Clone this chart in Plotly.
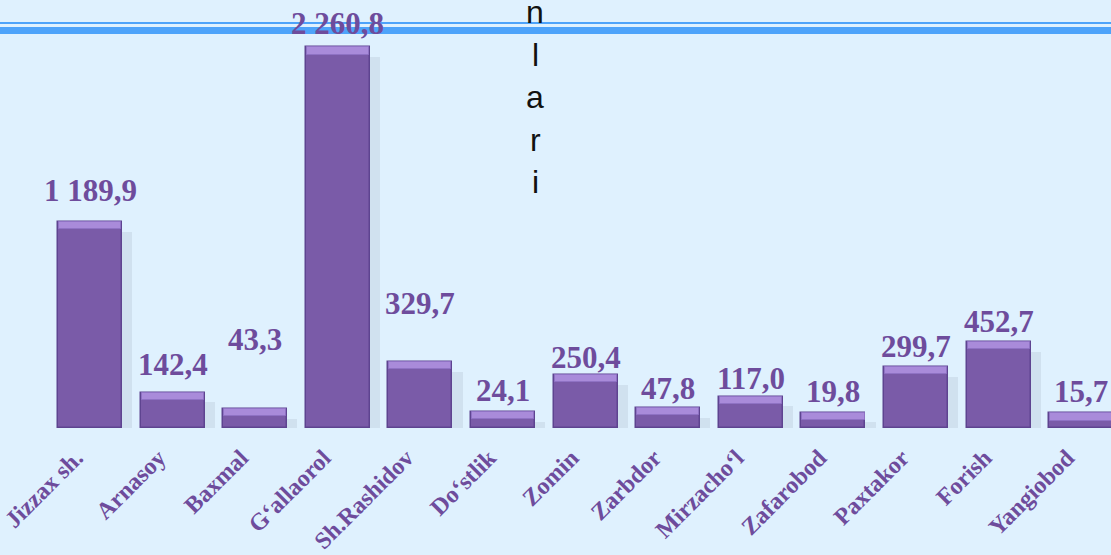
"""
Bar chart of district values (Jizzax region) recreated with Plotly.
"""
import plotly.graph_objects as go

districts = ["Jizzax sh.", "Arnasoy", "Baxmal", "G\u2018allaorol", "Sh.Rashidov",
             "Do\u2018stlik", "Zomin", "Zarbdor", "Mirzacho\u2018l", "Zafarobod",
             "Paxtakor", "Forish", "Yangiobod"]
values = [1189.9, 142.4, 43.3, 2260.8, 329.7, 24.1, 250.4, 47.8, 117.0, 19.8,
          299.7, 452.7, 15.7]
value_labels = ["1 189,9", "142,4", "43,3", "2 260,8", "329,7", "24,1", "250,4",
                "47,8", "117,0", "19,8", "299,7", "452,7", "15,7"]
stray_letters = ["n", "l", "a", "r", "i"]

# label lifts above bar tops (px), a couple were moved by hand in the original
label_lift = [12, 9, 50, 4, 39, 2, -2, 0, -1, 2, 1, 1, 2]

BG = "#DFF1FE"
FACE = "#7A5BA8"
CAP = "#A98BDA"
EDGE = "#5E4490"
TEXT = "#6E4C9C"
AXIS_MIN = -75
CAP_UNITS = 45
BAR_W = 0.775

x = list(range(len(districts)))

fig = go.Figure()

# soft shadow on the right side of every bar
fig.add_trace(go.Bar(
    x=x, y=[v - AXIS_MIN - 60 for v in values], base=AXIS_MIN,
    width=BAR_W * 0.9, offset=-BAR_W / 2 + 0.2,
    marker={"color": "rgba(90,100,120,0.11)", "line": {"width": 0}},
    hoverinfo="skip", showlegend=False,
))
# main bar face
fig.add_trace(go.Bar(
    x=x, y=[v - AXIS_MIN for v in values], base=AXIS_MIN,
    width=BAR_W, offset=-BAR_W / 2,
    marker={"color": FACE, "line": {"color": EDGE, "width": 1.5}},
    customdata=values,
    hovertemplate="%{customdata}<extra></extra>",
    showlegend=False,
))
# lighter bevelled top
fig.add_trace(go.Bar(
    x=x, y=[CAP_UNITS] * len(values), base=[v - CAP_UNITS for v in values],
    width=BAR_W * 0.97, offset=-BAR_W * 0.97 / 2,
    marker={"color": CAP, "line": {"color": "#8F72C4", "width": 1}},
    hoverinfo="skip", showlegend=False,
))

for i, (v, lab) in enumerate(zip(values, value_labels)):
    fig.add_annotation(
        x=i, y=v, text=f"<b>{lab}</b>", showarrow=False,
        yanchor="bottom", yshift=label_lift[i],
        font={"family": "Liberation Serif, Times New Roman, serif", "size": 31, "color": TEXT},
    )

# stray vertical text box from the source slide
for k, ch in enumerate(stray_letters):
    fig.add_annotation(
        xref="paper", yref="paper", x=535 / 1111, y=1 - (12 + 42.5 * k) / 428,
        text=ch, showarrow=False, xanchor="center", yanchor="middle",
        font={"family": "Liberation Sans, Arial, sans-serif", "size": 32, "color": "#111111"},
    )

# double blue rule at the top
fig.add_shape(type="line", xref="paper", yref="paper", x0=0, x1=1,
              y0=1 - 23 / 428, y1=1 - 23 / 428,
              line={"color": "#4DA3FA", "width": 2})
fig.add_shape(type="line", xref="paper", yref="paper", x0=0, x1=1,
              y0=1 - 30.5 / 428, y1=1 - 30.5 / 428,
              line={"color": "#4DA3FA", "width": 7})

fig.update_layout(
    width=1111, height=555,
    margin={"l": 0, "r": 0, "t": 0, "b": 127},
    paper_bgcolor=BG, plot_bgcolor=BG,
    barmode="overlay", bargap=0,
    xaxis={
        "range": [-1.09, 12.36], "automargin": False,
        "tickvals": x, "ticktext": [f"<b>{d}</b>" for d in districts],
        "tickangle": -45, "ticklabelstandoff": 10, "ticklabelshift": -14,
        "ticklabeloverflow": "allow",
        "tickfont": {"family": "Liberation Serif, Times New Roman, serif",
                     "size": 24, "color": TEXT},
        "showgrid": False, "zeroline": False, "showline": False, "ticks": "",
    },
    yaxis={
        "range": [AXIS_MIN, 2551], "visible": False, "automargin": False,
        "showgrid": False, "zeroline": False,
    },
)
fig.update_traces(cliponaxis=False)

fig.write_html("out.html", config={"displayModeBar": False},
               post_script="document.body.style.margin='0';")
